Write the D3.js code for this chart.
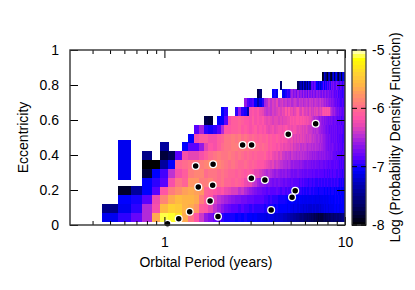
<!DOCTYPE html>
<html><head><meta charset="utf-8">
<script src="https://cdn.jsdelivr.net/npm/d3@7"></script>
<style>html,body{margin:0;padding:0;background:#fff}text{font-family:"Liberation Sans",Arial,sans-serif;fill:#000}</style>
</head><body><svg id="c" width="415" height="290"></svg>
<script>
const _ = null;
// log10 PDF per eccentricity row; columns are periods 0.5, 0.6 ... 10.0 years
const row00 = [-7.1,-6.95,-6.8,-6.5,-5.65,-5.1,-5.12,-5.3,-5.65,-5.95,
 -6.15,-6.4,-6.6,-6.7,-6.8,-6.85,-6.95,-7.0,-7.0,-7.0,
 -7.05,-7.02,-7.05,-7.0,-7.05,-7.05,-7.08,-7.05,-7.1,-7.1,
 -7.1,-7.12,-7.15,-7.12,-7.15,-7.15,-7.2,-7.18,-7.2,-7.2,
 -7.2,-7.25,-7.25,-7.3,-7.3,-7.35,-7.35,-7.4,-7.4,-7.45,
 -7.45,-7.5,-7.55,-7.5,-7.55,-7.6,-7.6,-7.65,-7.6,-7.65,
 -7.7,-7.65,-7.7,-7.75,-7.7,-7.75,-7.8,-7.75,-7.8,-7.8,
 -7.8,-7.75,-7.7,-7.75,-7.7,-7.7,-7.65,-7.7,-7.65,-7.6,
 -7.6,-7.65,-7.6,-7.55,-7.6,-7.55,-7.6,-7.6,-7.55,-7.6,
 -7.5,-7.55,-7.5,-7.5,-7.5,-7.5];
const row01 = [-7.5,-7.1,-6.95,-6.5,-6.2,-5.55,-5.4,-5.45,-5.6,-5.65,
 -5.75,-6.1,-6.15,-6.3,-6.45,-6.55,-6.65,-6.75,-6.8,-6.85,
 -6.85,-6.9,-6.85,-6.9,-6.9,-6.95,-6.9,-6.95,-6.95,-6.95,
 -6.95,-7.0,-6.95,-7.0,-7.0,-7.0,-7.05,-7.0,-7.05,-7.05,
 -7.05,-7.05,-7.05,-7.1,-7.05,-7.1,-7.1,-7.15,-7.1,-7.1,
 -7.15,-7.1,-7.15,-7.15,-7.2,-7.15,-7.2,-7.15,-7.2,-7.2,
 -7.2,-7.15,-7.2,-7.2,-7.15,-7.2,-7.2,-7.15,-7.2,-7.15,
 -7.15,-7.15,-7.1,-7.15,-7.1,-7.1,-7.15,-7.1,-7.1,-7.1,
 -7.1,-7.1,-7.05,-7.1,-7.05,-7.1,-7.05,-7.05,-7.1,-7.05,
 -7.05,-7.05,-7.05,-7.05,-7.05,-7.05];
const row02 = [_,-7.05,-7.0,-6.85,-6.25,-5.85,-5.65,-5.55,-5.6,-5.6,
 -5.65,-5.9,-6.1,-6.15,-6.35,-6.45,-6.5,-6.55,-6.6,-6.65,
 -6.7,-6.7,-6.75,-6.75,-6.8,-6.8,-6.8,-6.85,-6.85,-6.85,
 -6.85,-6.9,-6.9,-6.95,-6.9,-6.95,-6.95,-6.95,-7.0,-7.0,
 -7.0,-7.0,-7.02,-7.05,-7.05,-7.05,-7.05,-7.05,-7.08,-7.05,
 -7.1,-7.05,-7.08,-7.1,-7.08,-7.1,-7.1,-7.08,-7.1,-7.1,
 -7.1,-7.08,-7.1,-7.1,-7.12,-7.1,-7.1,-7.12,-7.1,-7.1,
 -7.1,-7.08,-7.1,-7.1,-7.08,-7.1,-7.08,-7.05,-7.08,-7.05,
 -7.05,-7.08,-7.05,-7.05,-7.02,-7.05,-7.05,-7.02,-7.05,-7.05,
 -7.05,-7.02,-7.05,-7.05,-7.05,-7.05];
const row03 = [_,-7.85,-7.4,-7.05,-6.85,-6.15,-5.9,-5.8,-5.7,-5.65,
 -5.7,-5.75,-6.05,-6.1,-6.15,-6.2,-6.15,-6.25,-6.3,-6.35,
 -6.35,-6.45,-6.4,-6.5,-6.55,-6.6,-6.65,-6.7,-6.75,-6.75,
 -6.8,-6.8,-6.85,-6.8,-6.85,-6.85,-6.85,-6.8,-6.85,-6.9,
 -6.85,-6.85,-6.9,-6.85,-6.9,-6.9,-6.95,-6.95,-6.9,-6.95,
 -6.95,-6.95,-6.95,-7.0,-6.95,-7.0,-6.95,-7.0,-7.0,-6.95,
 -7.0,-7.0,-6.95,-7.0,-7.0,-7.0,-7.05,-7.0,-7.0,-7.0,
 -7.0,-7.0,-7.05,-7.0,-7.0,-7.05,-7.0,-7.0,-7.05,-7.0,
 -7.0,-7.0,-7.05,-7.0,-7.0,-7.05,-7.0,-7.05,-7.05,-7.0,
 -7.05,-7.05,-7.05,-7.05,-7.05,-7.05];
const row04 = [_,_,_,-7.05,-6.95,-6.85,-6.2,-5.95,-6.05,-5.75,
 -5.75,-5.9,-5.9,-5.85,-5.95,-6.0,-5.95,-6.05,-6.05,-6.1,
 -6.05,-6.1,-6.15,-6.25,-6.3,-6.3,-6.4,-6.45,-6.55,-6.6,
 -6.6,-6.65,-6.7,-6.65,-6.7,-6.75,-6.7,-6.75,-6.7,-6.75,
 -6.75,-6.8,-6.75,-6.8,-6.8,-6.85,-6.8,-6.85,-6.85,-6.85,
 -6.85,-6.9,-6.85,-6.9,-6.85,-6.9,-6.9,-6.9,-6.95,-6.9,
 -6.9,-6.95,-6.9,-6.9,-6.95,-6.95,-6.9,-6.95,-6.95,-6.9,
 -6.95,-6.95,-6.9,-6.95,-6.95,-6.9,-6.95,-6.95,-6.95,-6.9,
 -6.95,-6.95,-6.9,-6.95,-6.95,-6.95,-6.9,-6.95,-7.0,-6.95,
 -6.95,-7.0,-6.95,-7.0,-7.0,-7.0];
const row05 = [_,_,_,-7.8,-7.05,-6.9,-6.45,-6.2,-6.1,-5.9,
 -5.85,-5.85,-6.0,-5.95,-5.95,-6.0,-5.95,-6.0,-6.05,-6.05,
 -6.1,-6.05,-6.1,-6.15,-6.1,-6.15,-6.2,-6.3,-6.3,-6.35,
 -6.4,-6.45,-6.5,-6.45,-6.5,-6.55,-6.6,-6.55,-6.6,-6.65,
 -6.6,-6.65,-6.6,-6.7,-6.65,-6.7,-6.75,-6.7,-6.75,-6.75,
 -6.7,-6.75,-6.75,-6.8,-6.75,-6.8,-6.8,-6.75,-6.8,-6.8,
 -6.8,-6.85,-6.8,-6.8,-6.85,-6.85,-6.8,-6.85,-6.85,-6.85,
 -6.85,-6.85,-6.9,-6.85,-6.85,-6.9,-6.85,-6.9,-6.85,-6.85,
 -6.9,-6.85,-6.85,-6.9,-6.85,-6.9,-6.9,-6.85,-6.9,-6.9,
 -6.9,-6.9,-6.95,-6.9,-6.95,-6.95];
const row06 = [_,_,_,-8,-8,-7.4,-7.05,-6.05,-6.0,-5.95,
 -5.95,-5.9,-5.85,-5.8,-5.8,-5.85,-5.9,-5.95,-6.0,-5.95,
 -6.0,-6.05,-6.05,-6.0,-6.05,-6.1,-6.05,-6.1,-6.15,-6.15,
 -6.15,-6.2,-6.25,-6.3,-6.35,-6.3,-6.4,-6.35,-6.4,-6.45,
 -6.45,-6.5,-6.5,-6.55,-6.5,-6.55,-6.6,-6.55,-6.6,-6.6,
 -6.6,-6.65,-6.6,-6.65,-6.65,-6.7,-6.7,-6.65,-6.7,-6.7,
 -6.75,-6.7,-6.75,-6.75,-6.7,-6.75,-6.75,-6.8,-6.75,-6.75,
 -6.75,-6.8,-6.8,-6.75,-6.8,-6.8,-6.85,-6.8,-6.8,-6.85,
 -6.85,-6.85,-6.8,-6.85,-6.85,-6.8,-6.85,-6.85,-6.9,-6.85,
 -6.85,-6.9,-6.85,-6.9,-6.9,-6.9];
const row07 = [_,_,_,-7.5,_,-7.8,-7.7,-6.85,-6.2,-6.3,
 -6.3,-6.2,-6.1,-6.0,-5.95,-5.9,-5.95,-5.95,-5.9,-5.95,
 -6.0,-5.95,-6.0,-6.05,-6.0,-6.05,-6.1,-6.05,-6.1,-6.1,
 -6.1,-6.05,-6.15,-6.2,-6.15,-6.25,-6.3,-6.25,-6.35,-6.3,
 -6.4,-6.4,-6.45,-6.4,-6.45,-6.5,-6.4,-6.45,-6.45,-6.5,
 -6.45,-6.5,-6.45,-6.5,-6.45,-6.5,-6.5,-6.55,-6.5,-6.55,
 -6.55,-6.6,-6.55,-6.6,-6.55,-6.6,-6.65,-6.6,-6.6,-6.65,
 -6.6,-6.65,-6.6,-6.65,-6.7,-6.65,-6.7,-6.7,-6.75,-6.7,
 -6.75,-6.8,-6.8,-6.85,-6.8,-6.85,-6.8,-6.85,-6.85,-6.85,
 -6.85,-6.9,-6.85,-6.85,-6.9,-6.9];
const row08 = [_,_,_,_,_,-7.4,_,_,-7.05,-6.85,
 -6.85,-6.6,-6.3,-6.15,-6.2,-6.1,-6.0,-5.95,-5.95,-5.9,
 -5.9,-5.95,-5.9,-5.95,-5.95,-6.0,-5.95,-6.0,-6.0,-6.05,
 -6.0,-6.05,-6.05,-6.15,-6.1,-6.15,-6.15,-6.2,-6.15,-6.25,
 -6.2,-6.3,-6.25,-6.3,-6.3,-6.35,-6.3,-6.4,-6.35,-6.4,
 -6.4,-6.35,-6.45,-6.4,-6.45,-6.4,-6.45,-6.5,-6.45,-6.45,
 -6.5,-6.45,-6.5,-6.5,-6.45,-6.5,-6.5,-6.55,-6.5,-6.55,
 -6.55,-6.6,-6.6,-6.65,-6.7,-6.7,-6.75,-6.7,-6.75,-6.75,
 -6.7,-6.75,-6.8,-6.75,-6.8,-6.75,-6.8,-6.85,-6.8,-6.85,
 -6.85,-6.85,-6.9,-6.85,-6.9,-6.9];
const row09 = [_,_,_,_,_,_,_,_,_,-7.05,
 -6.2,-6.1,-6.1,-6.2,-6.2,-6.1,-6.05,-5.95,-5.95,-5.9,
 -5.95,-5.9,-6.0,-5.95,-6.0,-6.05,-6.0,-6.05,-6.1,-6.05,
 -6.1,-6.1,-6.05,-6.15,-6.1,-6.15,-6.15,-6.1,-6.15,-6.2,
 -6.15,-6.2,-6.2,-6.25,-6.3,-6.3,-6.25,-6.35,-6.3,-6.35,
 -6.3,-6.35,-6.3,-6.35,-6.3,-6.35,-6.4,-6.35,-6.4,-6.35,
 -6.4,-6.45,-6.4,-6.45,-6.45,-6.5,-6.45,-6.5,-6.55,-6.5,
 -6.55,-6.6,-6.6,-6.65,-6.7,-6.7,-6.75,-6.7,-6.75,-6.8,
 -6.75,-6.8,-6.75,-6.85,-6.8,-6.75,-6.85,-6.8,-6.85,-6.85,
 -6.9,-6.85,-6.9,-6.9,-6.85,-6.9];
const row10 = [_,_,_,_,_,_,_,_,_,_,
 -6.85,-6.55,-6.95,-7.0,-6.95,-6.85,-6.5,-6.15,-6.15,-6.1,
 -6.1,-6.05,-6.15,-6.1,-6.15,-6.2,-6.15,-6.1,-6.2,-6.15,
 -6.2,-6.15,-6.25,-6.3,-6.25,-6.2,-6.3,-6.25,-6.2,-6.2,
 -6.25,-6.2,-6.15,-6.2,-6.25,-6.2,-6.25,-6.2,-6.2,-6.25,
 -6.3,-6.25,-6.3,-6.35,-6.3,-6.35,-6.3,-6.35,-6.4,-6.4,
 -6.4,-6.45,-6.5,-6.45,-6.5,-6.45,-6.5,-6.55,-6.55,-6.6,
 -6.6,-6.65,-6.65,-6.7,-6.75,-6.7,-6.75,-6.8,-6.75,-6.8,
 -6.75,-6.8,-6.75,-6.8,-6.8,-6.75,-6.85,-6.8,-6.8,-6.85,
 -6.85,-6.8,-6.85,-6.9,-6.85,-6.85];
const row11 = [_,_,_,_,_,_,_,_,_,_,
 _,_,-7.75,-7.8,_,-7.05,-7.05,-6.85,-6.2,-6.1,
 -6.1,-6.05,-6.1,-6.15,-6.15,-6.2,-6.1,-6.2,-6.15,-6.2,
 -6.15,-6.25,-6.3,-6.25,-6.3,-6.35,-6.3,-6.3,-6.35,-6.3,
 -6.35,-6.3,-6.3,-6.25,-6.25,-6.15,-6.2,-6.15,-6.2,-6.15,
 -6.15,-6.2,-6.15,-6.2,-6.15,-6.2,-6.25,-6.2,-6.25,-6.3,
 -6.35,-6.4,-6.45,-6.5,-6.45,-6.5,-6.55,-6.6,-6.55,-6.6,
 -6.65,-6.6,-6.7,-6.65,-6.7,-6.7,-6.75,-6.7,-6.75,-6.7,
 -6.75,-6.8,-6.75,-6.8,-6.75,-6.8,-6.85,-6.8,-6.85,-6.8,
 -6.85,-6.9,-6.85,-6.85,-6.9,-6.9];
const row12 = [_,_,_,_,_,_,_,_,_,_,
 _,_,_,_,_,_,-7.05,-6.95,_,_,
 -6.95,-6.6,-6.95,-7.0,-7.3,-6.2,-6.15,-6.2,-6.15,-6.25,
 -6.3,-6.4,-6.45,-6.4,-6.45,-6.35,-6.4,-6.35,-6.3,-6.35,
 -6.25,-6.3,-6.15,-6.3,-6.15,-6.3,-6.25,-6.35,-6.3,-6.2,
 -6.15,-6.3,-6.35,-6.2,-6.25,-6.35,-6.3,-6.35,-6.4,-6.3,
 -6.4,-6.35,-6.4,-6.3,-6.35,-6.3,-6.4,-6.35,-6.3,-6.35,
 -6.2,-6.15,-6.2,-6.15,-6.2,-6.15,-6.2,-6.15,-6.4,-6.5,
 -6.55,-6.6,-6.55,-6.7,-6.65,-6.7,-6.75,-6.7,-6.8,-6.75,
 -6.8,-6.8,-6.85,-6.8,-6.85,-6.85];
const row13 = [_,_,_,_,_,_,_,_,_,_,
 _,_,_,_,_,_,_,_,_,_,
 _,_,_,-6.6,-6.85,-6.9,-6.85,-7.05,-7.3,-7.1,
 -6.95,-6.55,-6.5,-6.35,-6.45,-6.35,-6.4,-6.3,-6.45,-6.4,
 -6.35,-6.45,-6.4,-6.5,-6.45,-6.4,-6.5,-6.45,-6.4,-6.45,
 -6.5,-6.4,-6.45,-6.4,-6.5,-6.45,-6.4,-6.45,-6.5,-6.4,
 -6.45,-6.4,-6.5,-6.45,-6.4,-6.45,-6.5,-6.45,-6.4,-6.5,
 -6.45,-6.5,-6.55,-6.5,-6.6,-6.55,-6.6,-6.65,-6.6,-6.7,
 -6.65,-6.7,-6.75,-6.7,-6.8,-6.75,-6.85,-6.8,-6.85,-6.9,
 -6.85,-6.9,-6.85,-6.9,-6.9,-6.9];
const row14 = [_,_,_,_,_,_,_,_,_,_,
 _,_,_,_,_,_,_,_,_,_,
 _,_,_,_,_,_,_,_,-7.75,-7.6,
 _,_,_,_,_,-7.05,-7.0,-7.1,_,_,
 -7.05,-7.1,-7.0,-6.9,-6.95,-6.7,-6.55,-6.7,-6.6,-6.75,
 -6.55,-6.7,-6.6,-6.75,-6.55,-6.7,-6.6,-6.8,-6.55,-6.7,
 -6.6,-6.75,-6.6,-6.65,-6.75,-6.6,-6.7,-6.6,-6.7,-6.75,
 -6.6,-6.75,-6.7,-6.6,-6.75,-6.7,-6.65,-6.75,-6.7,-6.8,
 -6.7,-6.75,-6.85,-6.75,-6.8,-6.85,-6.75,-6.9,-6.85,-6.9,
 -6.85,-6.9,-6.95,-6.9,-6.9,-6.95];
const row15 = [_,_,_,_,_,_,_,_,_,_,
 _,_,_,_,_,_,_,_,_,_,
 _,_,_,_,_,_,_,_,_,_,
 _,_,_,_,_,_,_,_,_,-7.6,
 _,_,_,_,_,_,_,_,_,_,
 -7.7,-7.5,-7.3,-7.6,-7.1,-7.5,-7.2,-7.6,-7.1,-7.4,
 -6.85,-6.8,-6.9,-6.75,-6.85,-7.05,-7.2,-7.0,-7.2,-7.05,
 -7.0,-6.85,-7.05,-6.9,-7.0,-6.85,-6.95,-6.8,-6.95,-6.7,
 -6.8,-6.7,-6.85,-6.75,-6.85,-6.7,-6.8,-6.85,-6.9,-6.8,
 -6.9,-6.85,-6.95,-6.85,-6.9,-6.9];
const row16 = [_,_,_,_,_,_,_,_,_,_,
 _,_,_,_,_,_,_,_,_,_,
 _,_,_,_,_,_,_,_,_,_,
 _,_,_,_,_,_,_,_,_,_,
 _,_,_,_,_,_,_,_,_,_,
 _,_,_,_,_,_,_,_,_,_,
 _,_,_,_,_,_,_,_,_,_,
 -7.9,-7.8,-7.2,-7.4,-7.6,-7.9,-7.3,-7.2,-7.8,-7.9,
 -7.3,-7.1,-7.7,-7.85,-7.2,-7.05,-7.6,-7.8,-7.3,-7.2,
 -7.7,-7.8,-7.2,-7.1,-7.3,-7.4];
const gridRows = [row00,row01,row02,row03,row04,row05,row06,row07,row08,row09,row10,row11,row12,row13,row14,row15,row16];

// the isolated column at 0.6 years
const patchPeriod = [0.6];
const patchEccLow = [0.257];
const patchEccHigh = [0.487];
const patchValue = [-7.1];

// observed planets
const planetPeriod = [2.71,3.04,1.86,3.03,3.60,1.85,5.30,5.09,1.79,3.90,1.98,4.85,6.88,1.49,1.54,1.38,1.20,1.04];
const planetEcc = [0.457,0.457,0.347,0.267,0.257,0.227,0.196,0.158,0.137,0.086,0.048,0.518,0.579,0.337,0.217,0.076,0.036,0.007];

const xMajor = [1,10];
const xMinor = [0.4,0.5,0.6,0.7,0.8,0.9,2,3,4,5,6,7,8,9];
const yTicks = [0,0.2,0.4,0.6,0.8,1];
const cTicks = [-5,-6,-7,-8];
const paletteAt = [-8,-7.7,-7.3,-7.05,-6.85,-6.6,-6.45,-6.3,-6.15,-6.05,-5.75,-5.6,-5.4,-5.15,-5];
const paletteCol = ["#000000","#00005a","#0000b4","#0000ff","#5a00ff","#9619e6","#be32d2","#e646b4","#ff55a5","#ff6496","#ff9664","#ffb446","#ffd232","#ffff00","#ffffd2"];

const L=70,R=345,T=50,B=225,FS=14;
const svg=d3.select("#c");
const x=d3.scaleLog().domain([0.3,10]).range([L,R]);
const y=d3.scaleLinear().domain([0,1]).range([B,T]);
const col=d3.scaleLinear().domain(paletteAt).range(paletteCol).clamp(true);
const cy=d3.scaleLinear().domain([-8,-5]).range([225,50]);

svg.append("defs").append("clipPath").attr("id","pc").append("rect").attr("x",L).attr("y",T).attr("width",R-L).attr("height",B-T);
const heat=svg.append("g").attr("clip-path","url(#pc)").attr("shape-rendering","crispEdges");
const eBase=0.0186,eStep=0.0504,pStart=0.5,pStep=0.1;
gridRows.forEach((vals,r)=>{
  vals.forEach((v,i)=>{
    if(v===null)return;
    const p=pStart+pStep*i;
    const x0=x(p-pStep/2),x1=x(p+pStep/2);
    const y1=y(eBase+eStep*r),y0=y(eBase+eStep*(r+1));
    heat.append("rect").attr("x",x0).attr("y",y0).attr("width",x1-x0+0.3).attr("height",y1-y0+0.2).attr("fill",col(v));
  });
});
patchPeriod.forEach((p,i)=>{
  heat.append("rect").attr("x",x(p-pStep/2)).attr("width",x(p+pStep/2)-x(p-pStep/2))
    .attr("y",y(patchEccHigh[i])).attr("height",y(patchEccLow[i])-y(patchEccHigh[i])).attr("fill",col(patchValue[i]));
});

// planets
svg.append("g").selectAll("circle").data(planetPeriod).join("circle")
  .attr("cx",d=>x(d)).attr("cy",(d,i)=>y(planetEcc[i])).attr("r",3.4)
  .attr("fill","#000").attr("stroke","#fff").attr("stroke-width",1.3);

// axes
function style(g){g.select(".domain").remove();g.selectAll("line").attr("stroke","#000").attr("stroke-width",1);g.selectAll("text").attr("font-size",FS).attr("fill","#000").attr("font-family",'"Liberation Sans",Arial,sans-serif');}
const lab=d3.format("d");
svg.append("g").attr("transform",`translate(0,${B})`).call(d3.axisBottom(x).tickValues(xMajor).tickFormat(lab).tickSizeInner(-8).tickPadding(12)).call(style);
svg.append("g").attr("transform",`translate(0,${B})`).call(d3.axisBottom(x).tickValues(xMinor).tickFormat("").tickSizeInner(-4)).call(style);
svg.append("g").attr("transform",`translate(0,${T})`).call(d3.axisTop(x).tickValues(xMajor).tickFormat("").tickSizeInner(-8)).call(style);
svg.append("g").attr("transform",`translate(0,${T})`).call(d3.axisTop(x).tickValues(xMinor).tickFormat("").tickSizeInner(-4)).call(style);
svg.append("g").attr("transform",`translate(${L},0)`).call(d3.axisLeft(y).tickValues(yTicks).tickFormat(d3.format("~g")).tickSizeInner(-8).tickPadding(11)).call(style);
svg.append("g").attr("transform",`translate(${R},0)`).call(d3.axisRight(y).tickValues(yTicks).tickFormat("").tickSizeInner(-8)).call(style);
svg.append("rect").attr("x",L).attr("y",T).attr("width",R-L).attr("height",B-T).attr("fill","none").attr("stroke","#333").attr("stroke-width",1.4);

// colour bar
const cb=svg.append("g").attr("shape-rendering","crispEdges");
const barL=352,barR=366,steps=d3.range(-8,-5,0.0625);
cb.selectAll("rect").data(steps).join("rect").attr("x",barL).attr("width",barR-barL)
  .attr("y",d=>cy(d+0.0625)).attr("height",d=>cy(d)-cy(d+0.0625)+0.5).attr("fill",d=>col(d+0.03));
svg.append("rect").attr("x",barL).attr("y",50).attr("width",barR-barL).attr("height",175).attr("fill","none").attr("stroke","#444").attr("stroke-width",1.3);
cTicks.forEach(t=>{
  [[barL,barL+5],[barR-5,barR]].forEach(s=>svg.append("line").attr("x1",s[0]).attr("x2",s[1]).attr("y1",cy(t)).attr("y2",cy(t)).attr("stroke","#000"));
  svg.append("text").attr("x",372).attr("y",cy(t)+5).attr("font-size",FS).text(t);
});

svg.append("text").attr("x",206).attr("y",267).attr("text-anchor","middle").attr("font-size",FS).text("Orbital Period (years)");
svg.append("text").attr("transform","translate(28,137.5) rotate(-90)").attr("text-anchor","middle").attr("font-size",FS).text("Eccentricity");
svg.append("text").attr("transform","translate(400,137.5) rotate(-90)").attr("text-anchor","middle").attr("font-size",FS).text("Log (Probability Density Function)");
</script></body></html>
